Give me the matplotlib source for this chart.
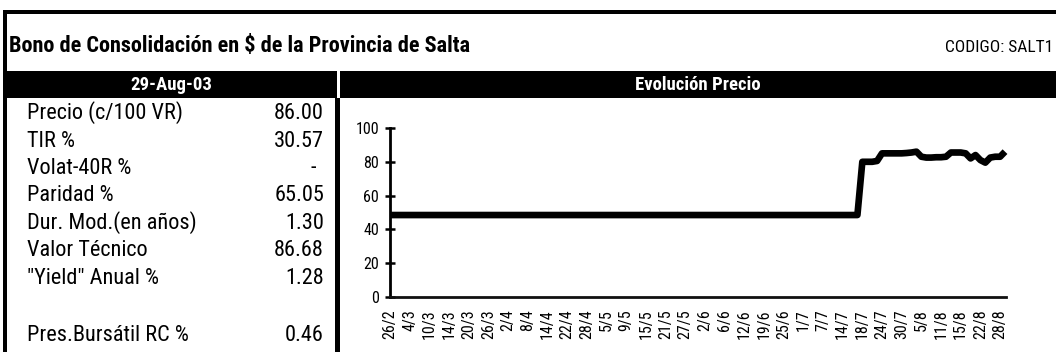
import matplotlib
matplotlib.use("Agg")
import matplotlib.pyplot as plt
from matplotlib import font_manager as fm
from matplotlib.patches import Rectangle
import numpy as np

# ---- data -------------------------------------------------------------
title = "Bono de Consolidación en $ de la Provincia de Salta"
code_label = "CODIGO: SALT1"
date_header = "29-Aug-03"
chart_header = "Evolución Precio"

row_labels = ["Precio (c/100 VR)", "TIR %", "Volat-40R %", "Paridad %",
              "Dur. Mod.(en años)", "Valor Técnico", "\"Yield\" Anual %",
              "Pres.Bursátil RC %"]
row_values = ["86.00", "30.57", "-", "65.05", "1.30", "86.68", "1.28", "0.46"]

# daily closing price, 26/2 .. 29/8
price = [
    48.5, 48.5, 48.5, 48.5, 48.5, 48.5, 48.5, 48.5, 48.5, 48.5, 48.5, 48.5, 48.5, 48.5, 48.5, 48.5,
    48.5, 48.5, 48.5, 48.5, 48.5, 48.5, 48.5, 48.5, 48.5, 48.5, 48.5, 48.5, 48.5, 48.5, 48.5, 48.5,
    48.5, 48.5, 48.5, 48.5, 48.5, 48.5, 48.5, 48.5, 48.5, 48.5, 48.5, 48.5, 48.5, 48.5, 48.5, 48.5,
    48.5, 48.5, 48.5, 48.5, 48.5, 48.5, 48.5, 48.5, 48.5, 48.5, 48.5, 48.5, 48.5, 48.5, 48.5, 48.5,
    48.5, 48.5, 48.5, 48.5, 48.5, 48.5, 48.5, 48.5, 48.5, 48.5, 48.5, 48.5, 48.5, 48.5, 48.5, 48.5,
    48.5, 48.5, 48.5, 48.5, 48.5, 48.5, 48.5, 48.5, 48.5, 48.5, 48.5, 48.5, 48.5, 48.5, 48.5, 48.5,
    80.0, 80.0, 80.0, 80.5,
    85.0, 85.0, 85.0, 85.0, 85.0, 85.2, 85.5, 86.0,
    83.0, 82.5, 82.5, 82.7, 82.7, 83.0,
    85.5, 85.5, 85.5, 85.0,
    82.0, 84.0, 81.0, 79.5, 82.5, 83.0, 83.0, 86.0,
]

date_labels = ["26/2", "4/3", "10/3", "14/3", "20/3", "26/3", "2/4", "8/4",
               "14/4", "22/4", "28/4", "5/5", "9/5", "15/5", "21/5", "27/5",
               "2/6", "6/6", "12/6", "19/6", "25/6", "1/7", "7/7", "14/7",
               "18/7", "24/7", "30/7", "5/8", "11/8", "15/8", "22/8", "28/8"]
label_step = 4  # one label every four trading days

y_ticks = [0, 20, 40, 60, 80, 100]

# ---- fonts ------------------------------------------------------------
available = {f.name for f in fm.fontManager.ttflist}
FONT = "DejaVu Sans"
for cand in ["Liberation Sans Narrow", "Arial Narrow", "Roboto Condensed",
             "Open Sans Condensed", "Liberation Sans"]:
    if cand in available:
        FONT = cand
        break
plt.rcParams["font.family"] = [FONT, "DejaVu Sans"]

# ---- figure in pixel coordinates ---------------------------------------
W, H = 1056, 352
fig = plt.figure(figsize=(W / 100, H / 100), dpi=100)
fig.patch.set_facecolor("white")


def fx(x):
    return x / W


def fy(y):
    return 1 - y / H


def block(x0, y0, x1, y1, color="black"):
    fig.add_artist(Rectangle((fx(x0), fy(y1)), fx(x1) - fx(x0), fy(y0) - fy(y1),
                             transform=fig.transFigure, facecolor=color,
                             edgecolor="none", zorder=0))


# frame and header bands
block(3, 10, W, 14)        # top rule
block(3, 10, 7, H)         # left rule
block(3, 71, 337, 98)      # date band
block(340, 71, W, 98)      # chart band
block(335, 98, 340, H)     # column separator

fig.text(fx(9), fy(46), title, fontsize=16, fontweight="bold",
         ha="left", va="center", color="black")
fig.text(fx(1053), fy(48), code_label, fontsize=12.5,
         ha="right", va="center", color="black")
fig.text(fx(171), fy(85), date_header, fontsize=13.5, fontweight="bold",
         ha="center", va="center", color="white")
fig.text(fx(698), fy(85), chart_header, fontsize=13.5, fontweight="bold",
         ha="center", va="center", color="white")

# indicator table
row_baselines = [119, 147, 174, 201, 229, 256, 284, 341]
for lab, val, yb in zip(row_labels, row_values, row_baselines):
    fig.text(fx(27), fy(yb), lab, fontsize=16, ha="left", va="baseline")
    xr = 316 if val == "-" else 324
    fig.text(fx(xr), fy(yb), val, fontsize=16, ha="right", va="baseline")

# ---- price chart ------------------------------------------------------
ax = fig.add_axes([fx(390), fy(297), fx(1006) - fx(390), (297 - 128) / H])
x = np.arange(len(price))
ax.plot(x, price, color="black", linewidth=4.8,
        solid_joinstyle="round", solid_capstyle="butt", clip_on=False)
ax.set_xlim(0, len(price) - 0.8)
ax.set_ylim(0, 100)

ax.set_yticks(y_ticks)
ax.set_yticklabels([str(v) for v in y_ticks])
ax.set_xticks(np.arange(len(date_labels)) * label_step)
ax.set_xticklabels(date_labels, rotation=90)

for side in ("top", "right"):
    ax.spines[side].set_visible(False)
ax.spines["left"].set_linewidth(2.0)
ax.spines["bottom"].set_linewidth(2.0)
ax.spines["bottom"].set_color("#111111")
ax.tick_params(axis="y", direction="inout", length=7.5, width=1.8,
               labelsize=11.5, pad=4)
ax.tick_params(axis="x", length=0, labelsize=11.5, pad=9)
ax.set_facecolor("none")

fig.savefig("out.png", dpi=100, facecolor="white")
